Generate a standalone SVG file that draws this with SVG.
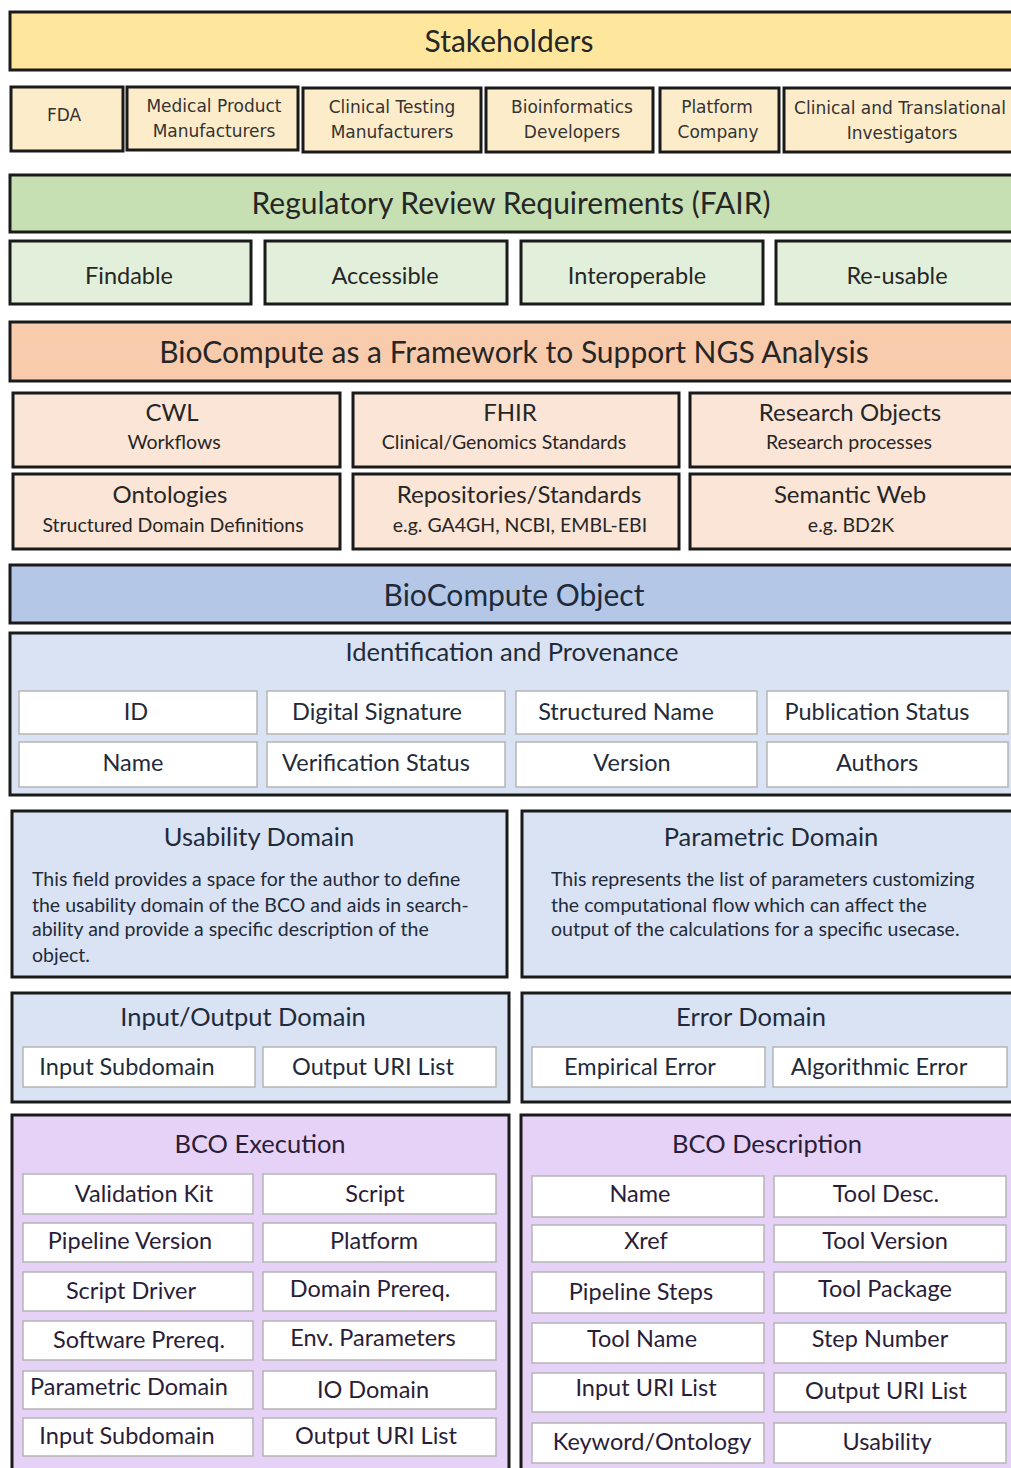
<svg xmlns="http://www.w3.org/2000/svg" width="1011" height="1468" viewBox="0 0 1011 1468">
<style>
text{font-family:Lato,"Liberation Sans",sans-serif;fill:#262626;text-anchor:middle}
.bx{stroke:#1a1a1a;stroke-width:3}
.cell{fill:#ffffff;stroke:#b5b5b5;stroke-width:1.5}
.t1{font-size:30px}
.t2{font-size:25.5px}
.t3{font-size:17px;font-family:"DejaVu Sans","Liberation Sans",sans-serif;fill:#333333}
.t4{font-size:23.5px}
.t5{font-size:24px}
.sm{font-size:19.5px}
.body{font-size:19.5px;text-anchor:start}
.yel{fill:#fee69c}
.yel2{fill:#fdecca}
.grn{fill:#c6e0b4}
.grn2{fill:#e2efda}
.org{fill:#f8cbad}
.org2{fill:#fbe5d6}
.blu{fill:#b4c7e7}
.blu2{fill:#dae3f3}
.pur{fill:#e6d2f6}
.bl{fill:#1f2b3a}
.pl{fill:#2a1d38}
</style>
<rect width="1011" height="1468" fill="#ffffff"/>

<g id="stakeholders">
<rect class="bx yel" x="10" y="12" width="1006" height="58"/>
<text class="t1" x="509" y="52">Stakeholders</text>
</g>
<g id="fda"><rect class="bx yel2" x="11" y="87" width="112" height="64"/><text class="t3" x="64" y="121">FDA</text></g>
<g id="medical"><rect class="bx yel2" x="127" y="87" width="171" height="63"/><text class="t3" x="214" y="112">Medical Product</text><text class="t3" x="214" y="137">Manufacturers</text></g>
<g id="clinicaltesting"><rect class="bx yel2" x="303" y="88" width="178" height="64"/><text class="t3" x="392" y="113">Clinical Testing</text><text class="t3" x="392" y="138">Manufacturers</text></g>
<g id="bioinformatics"><rect class="bx yel2" x="486" y="88" width="167" height="64"/><text class="t3" x="572" y="113">Bioinformatics</text><text class="t3" x="572" y="138">Developers</text></g>
<g id="platform"><rect class="bx yel2" x="660" y="88" width="119" height="64"/><text class="t3" x="717" y="113">Platform</text><text class="t3" x="718" y="138">Company</text></g>
<g id="clinicaltranslational"><rect class="bx yel2" x="784" y="88" width="235" height="64"/><text class="t3" x="900" y="114">Clinical and Translational</text><text class="t3" x="902" y="139">Investigators</text></g>

<g id="fair">
<rect class="bx grn" x="10" y="175" width="1006" height="57"/>
<text class="t1" x="511" y="214">Regulatory Review Requirements (FAIR)</text>
</g>
<g id="findable"><rect class="bx grn2" x="10" y="241" width="241" height="63"/><text class="t4" x="129" y="284">Findable</text></g>
<g id="accessible"><rect class="bx grn2" x="265" y="241" width="242" height="63"/><text class="t4" x="385" y="284">Accessible</text></g>
<g id="interoperable"><rect class="bx grn2" x="521" y="241" width="242" height="63"/><text class="t4" x="637" y="284">Interoperable</text></g>
<g id="reusable"><rect class="bx grn2" x="776" y="241" width="240" height="63"/><text class="t4" x="897" y="284">Re-usable</text></g>

<g id="framework">
<rect class="bx org" x="10" y="322" width="1006" height="59"/>
<text class="t1" x="514" y="363">BioCompute as a Framework to Support NGS Analysis</text>
</g>
<g id="cwl"><rect class="bx org2" x="13" y="393" width="327" height="74"/><text class="t5" x="172" y="421">CWL</text><text class="sm" x="174" y="449">Workflows</text></g>
<g id="fhir"><rect class="bx org2" x="353" y="393" width="326" height="74"/><text class="t5" x="510" y="421">FHIR</text><text class="sm" x="504" y="449">Clinical/Genomics Standards</text></g>
<g id="researchobjects"><rect class="bx org2" x="690" y="393" width="326" height="74"/><text class="t5" x="850" y="421">Research Objects</text><text class="sm" x="849" y="449">Research processes</text></g>
<g id="ontologies"><rect class="bx org2" x="13" y="474" width="327" height="75"/><text class="t5" x="170" y="503">Ontologies</text><text class="sm" x="173" y="532">Structured Domain Definitions</text></g>
<g id="repositories"><rect class="bx org2" x="353" y="474" width="326" height="75"/><text class="t5" x="519" y="503">Repositories/Standards</text><text class="sm" x="520" y="532">e.g. GA4GH, NCBI, EMBL-EBI</text></g>
<g id="semanticweb"><rect class="bx org2" x="690" y="474" width="326" height="75"/><text class="t5" x="850" y="503">Semantic Web</text><text class="sm" x="851" y="532">e.g. BD2K</text></g>

<g id="bco">
<rect class="bx blu" x="10" y="565" width="1006" height="58"/>
<text class="t1 bl" x="514" y="606">BioCompute Object</text>
</g>

<g id="identification">
<rect class="bx blu2" x="10" y="633" width="1006" height="162"/>
<text class="t2 bl" x="512" y="661">Identification and Provenance</text>
<rect class="cell" x="19" y="691" width="238" height="43"/><text class="t4 bl" x="136" y="720">ID</text>
<rect class="cell" x="267" y="691" width="238" height="43"/><text class="t4 bl" x="377" y="720">Digital Signature</text>
<rect class="cell" x="516" y="691" width="241" height="43"/><text class="t4 bl" x="626" y="720">Structured  Name</text>
<rect class="cell" x="767" y="691" width="241" height="43"/><text class="t4 bl" x="877" y="720">Publication Status</text>
<rect class="cell" x="19" y="742" width="238" height="45"/><text class="t4 bl" x="133" y="771">Name</text>
<rect class="cell" x="267" y="742" width="238" height="45"/><text class="t4 bl" x="376" y="771">Verification Status</text>
<rect class="cell" x="516" y="742" width="241" height="45"/><text class="t4 bl" x="632" y="771">Version</text>
<rect class="cell" x="767" y="742" width="241" height="45"/><text class="t4 bl" x="877" y="771">Authors</text>
</g>

<g id="usability">
<rect class="bx blu2" x="12" y="811" width="495" height="166"/>
<text class="t2 bl" x="259" y="846">Usability Domain</text>
<text class="body bl" x="32" y="886">This field provides a space for the author to define</text>
<text class="body bl" x="32" y="912">the usability domain of the BCO and aids in search-</text>
<text class="body bl" x="32" y="936">ability and provide a specific description of the</text>
<text class="body bl" x="32" y="962">object.</text>
</g>

<g id="parametric">
<rect class="bx blu2" x="522" y="811" width="494" height="166"/>
<text class="t2 bl" x="771" y="846">Parametric Domain</text>
<text class="body bl" x="551" y="886">This represents the list of parameters customizing</text>
<text class="body bl" x="551" y="912">the computational flow which can affect the</text>
<text class="body bl" x="551" y="936">output of the calculations for a specific usecase.</text>
</g>

<g id="iodomain">
<rect class="bx blu2" x="12" y="993" width="497" height="109"/>
<text class="t2 bl" x="243" y="1026">Input/Output Domain</text>
<rect class="cell" x="23" y="1047" width="232" height="40"/><text class="t4 bl" x="127" y="1075">Input Subdomain</text>
<rect class="cell" x="263" y="1047" width="233" height="40"/><text class="t4 bl" x="373" y="1075">Output URI List</text>
</g>

<g id="errordomain">
<rect class="bx blu2" x="522" y="993" width="494" height="109"/>
<text class="t2 bl" x="751" y="1026">Error Domain</text>
<rect class="cell" x="532" y="1047" width="233" height="40"/><text class="t4 bl" x="640" y="1075">Empirical Error</text>
<rect class="cell" x="773" y="1047" width="234" height="40"/><text class="t4 bl" x="879" y="1075">Algorithmic Error</text>
</g>

<g id="execution">
<rect class="bx pur" x="12" y="1115" width="497" height="360"/>
<text class="t2 pl" x="260" y="1153">BCO Execution</text>
<rect class="cell" x="23" y="1174" width="230" height="40"/><text class="t4 pl" x="144" y="1202">Validation Kit</text>
<rect class="cell" x="263" y="1174" width="233" height="40"/><text class="t4 pl" x="375" y="1202">Script</text>
<rect class="cell" x="23" y="1223" width="230" height="39"/><text class="t4 pl" x="130" y="1249">Pipeline Version</text>
<rect class="cell" x="263" y="1223" width="233" height="39"/><text class="t4 pl" x="374" y="1249">Platform</text>
<rect class="cell" x="23" y="1272" width="230" height="39"/><text class="t4 pl" x="131" y="1299">Script Driver</text>
<rect class="cell" x="263" y="1272" width="233" height="39"/><text class="t4 pl" x="370" y="1297">Domain Prereq.</text>
<rect class="cell" x="23" y="1321" width="230" height="39"/><text class="t4 pl" x="139" y="1348">Software Prereq.</text>
<rect class="cell" x="263" y="1321" width="233" height="39"/><text class="t4 pl" x="373" y="1346">Env. Parameters</text>
<rect class="cell" x="23" y="1371" width="230" height="38"/><text class="t4 pl" x="129" y="1395">Parametric Domain</text>
<rect class="cell" x="263" y="1371" width="233" height="38"/><text class="t4 pl" x="373" y="1398">IO Domain</text>
<rect class="cell" x="23" y="1418" width="230" height="38"/><text class="t4 pl" x="127" y="1444">Input Subdomain</text>
<rect class="cell" x="263" y="1418" width="233" height="38"/><text class="t4 pl" x="376" y="1444">Output URI List</text>
</g>

<g id="description">
<rect class="bx pur" x="521" y="1115" width="495" height="360"/>
<text class="t2 pl" x="767" y="1153">BCO Description</text>
<rect class="cell" x="532" y="1176" width="232" height="41"/><text class="t4 pl" x="640" y="1202">Name</text>
<rect class="cell" x="774" y="1176" width="232" height="41"/><text class="t4 pl" x="886" y="1202">Tool Desc.</text>
<rect class="cell" x="532" y="1225" width="232" height="37"/><text class="t4 pl" x="646" y="1249">Xref</text>
<rect class="cell" x="774" y="1225" width="232" height="37"/><text class="t4 pl" x="885" y="1249">Tool Version</text>
<rect class="cell" x="532" y="1272" width="232" height="41"/><text class="t4 pl" x="641" y="1300">Pipeline Steps</text>
<rect class="cell" x="774" y="1272" width="232" height="41"/><text class="t4 pl" x="885" y="1297">Tool Package</text>
<rect class="cell" x="532" y="1323" width="232" height="40"/><text class="t4 pl" x="642" y="1347">Tool Name</text>
<rect class="cell" x="774" y="1323" width="232" height="40"/><text class="t4 pl" x="880" y="1347">Step Number</text>
<rect class="cell" x="532" y="1373" width="232" height="39"/><text class="t4 pl" x="646" y="1396">Input  URI List</text>
<rect class="cell" x="774" y="1373" width="232" height="39"/><text class="t4 pl" x="886" y="1399">Output URI List</text>
<rect class="cell" x="532" y="1423" width="232" height="40"/><text class="t4 pl" x="652" y="1450">Keyword/Ontology</text>
<rect class="cell" x="774" y="1423" width="232" height="40"/><text class="t4 pl" x="887" y="1450">Usability</text>
</g>

<g id="connectors"></g>
</svg>
